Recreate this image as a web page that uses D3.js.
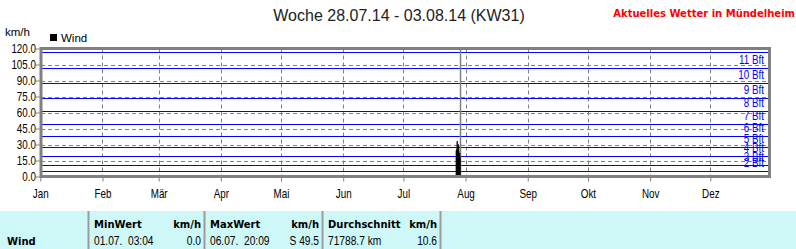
<!DOCTYPE html>
<html>
<head>
<meta charset="utf-8">
<script src="https://cdn.jsdelivr.net/npm/d3@7"></script>
<style>
  body { margin: 0; background: #fff; }
  svg { display: block; }
</style>
</head>
<body>
<div id="chart"></div>
<script>
// data
const monthNames = ["Jan", "Feb", "Mär", "Apr", "Mai", "Jun", "Jul", "Aug", "Sep", "Okt", "Nov", "Dez"];
const yTicks = [0, 15, 30, 45, 60, 75, 90, 105, 120];
const bftLimits = [5, 11, 19, 28, 38, 49, 61, 74, 88, 102, 117];
const bftLabels = ["2 Bft", "3 Bft", "4 Bft", "5 Bft", "6 Bft", "7 Bft", "8 Bft", "9 Bft", "10 Bft", "11 Bft"];
const windTimes = ["27.07.2014 06:00", "27.07.2014 09:00", "27.07.2014 12:00", "27.07.2014 15:00",
                   "27.07.2014 18:00", "27.07.2014 21:00", "28.07.2014 00:00", "28.07.2014 03:00",
                   "28.07.2014 06:00", "28.07.2014 09:00", "28.07.2014 12:00", "28.07.2014 15:00",
                   "28.07.2014 18:00", "28.07.2014 21:00", "29.07.2014 00:00", "29.07.2014 03:00",
                   "29.07.2014 06:00", "29.07.2014 09:00"];
const windValues = [24, 25, 24, 26, 33, 27, 25, 23, 28, 30, 29, 24, 22, 21, 22, 20, 18, 0];
const nowTime = "29.07.2014 00:00";
const tableHead = ["MinWert", "km/h", "MaxWert", "km/h", "Durchschnitt", "km/h"];
const tableRow = ["01.07.\u00a0 03:04", "0.0", "06.07.\u00a0 20:09", "S 49.5", "71788.7 km", "10.6"];

const width = 796, height = 249;
const plot = { left: 41, right: 769.5, top: 48.5, bottom: 176.5 };
const narrow = "translate(0,0) scale(0.82,1)";
const parseTime = d3.timeParse("%d.%m.%Y %H:%M");

const svg = d3.select("#chart").append("svg")
  .attr("width", width)
  .attr("height", height)
  .style("font-family", "'Liberation Sans', Arial, sans-serif");

let x = d3.scaleTime()
  .domain([new Date(2014, 0, 1), new Date(2015, 0, 1)])
  .range([40.3, 772.5]);

let y = d3.scaleLinear()
  .domain([0, 120])
  .range([plot.bottom, plot.top]);

// title
svg.append("text")
  .attr("x", 399).attr("y", 21)
  .attr("text-anchor", "middle")
  .style("font-size", "16px")
  .attr("fill", "#222")
  .text("Woche 28.07.14 - 03.08.14 (KW31)");

svg.append("text")
  .attr("x", 795).attr("y", 17)
  .attr("text-anchor", "end")
  .style("font-family", "'DejaVu Sans', sans-serif")
  .style("font-weight", "bold")
  .style("font-size", "10px")
  .attr("fill", "#ff0000")
  .text("Aktuelles Wetter in Mündelheim");

svg.append("text")
  .attr("x", 5).attr("y", 36)
  .style("font-size", "11.5px")
  .text("km/h");

// legend
svg.append("rect")
  .attr("x", 50).attr("y", 34)
  .attr("width", 7).attr("height", 7)
  .attr("fill", "#000");
svg.append("text")
  .attr("x", 61).attr("y", 42)
  .style("font-size", "11.5px")
  .text("Wind");

let grid = svg.append("g").attr("class", "grid");

grid.selectAll("line.hgrid")
  .data(yTicks.slice(1, -1))
  .enter().append("line")
  .attr("class", "hgrid")
  .attr("x1", plot.left).attr("x2", plot.right)
  .attr("y1", d => Math.round(y(d)) + 0.5)
  .attr("y2", d => Math.round(y(d)) + 0.5)
  .attr("stroke", "#808080")
  .attr("stroke-dasharray", "4,3");

let monthStarts = d3.timeMonth.range(new Date(2014, 0, 1), new Date(2015, 0, 1));

grid.selectAll("line.vgrid")
  .data(monthStarts.slice(1))
  .enter().append("line")
  .attr("class", "vgrid")
  .attr("x1", d => Math.round(x(d)) + 0.5)
  .attr("x2", d => Math.round(x(d)) + 0.5)
  .attr("y1", plot.top).attr("y2", plot.bottom)
  .attr("stroke", "#808080")
  .attr("stroke-dasharray", "4,3");

// beaufort lines
grid.selectAll("line.bft")
  .data(bftLimits)
  .enter().append("line")
  .attr("class", "bft")
  .attr("x1", plot.left).attr("x2", plot.right)
  .attr("y1", d => Math.round(y(d)) + 0.5)
  .attr("y2", d => Math.round(y(d)) + 0.5)
  .attr("stroke", "#0000ff")
  .attr("stroke-width", 1);

svg.append("g").selectAll("text")
  .data(bftLabels)
  .enter().append("text")
  .attr("transform", (d, i) => "translate(764," + (y(bftLimits[i]) - 4) + ") scale(0.82,1)")
  .attr("text-anchor", "end")
  .style("font-size", "12px")
  .attr("fill", "#0000ff")
  .text(d => d);

// current time marker
svg.append("line")
  .attr("x1", Math.round(x(parseTime(nowTime))) + 0.5)
  .attr("x2", Math.round(x(parseTime(nowTime))) + 0.5)
  .attr("y1", plot.top).attr("y2", plot.bottom)
  .attr("stroke", "#808080")
  .attr("stroke-width", 1.5);

// wind spike
let windData = windTimes.map((t, i) => ({ t: parseTime(t), v: windValues[i] }));
let area = d3.area()
  .x(d => x(d.t))
  .y0(y(0))
  .y1(d => y(d.v))
  .curve(d3.curveStepAfter);

svg.append("path")
  .datum(windData)
  .attr("d", area)
  .attr("fill", "#000")
  .attr("stroke", "#000")
  .attr("stroke-width", 0.8);

// axes
let xAxis = svg.append("g")
  .attr("transform", "translate(0," + plot.bottom + ")")
  .call(d3.axisBottom(x)
    .tickValues(monthStarts)
    .tickFormat((d, i) => monthNames[i])
    .tickSize(5)
    .tickPadding(8));
xAxis.select(".domain").remove();
xAxis.selectAll(".tick line").attr("stroke", "#808080");
xAxis.selectAll(".tick text")
  .attr("transform", narrow)
  .style("font-size", "12px")
  .style("font-family", "'Liberation Sans', Arial, sans-serif")
  .attr("fill", "#000");

let yAxis = svg.append("g")
  .attr("transform", "translate(" + plot.left + ",0)")
  .call(d3.axisLeft(y)
    .tickValues(yTicks)
    .tickFormat(d3.format(".1f"))
    .tickSize(5));
yAxis.select(".domain").remove();
yAxis.selectAll(".tick line").attr("stroke", "#808080");
yAxis.selectAll(".tick text")
  .attr("x", 0)
  .attr("transform", "translate(-5,0) scale(0.82,1)")
  .style("font-size", "12px")
  .style("font-family", "'Liberation Sans', Arial, sans-serif")
  .attr("fill", "#000");

// frame
svg.append("rect")
  .attr("x", plot.left).attr("y", plot.top)
  .attr("width", plot.right - plot.left)
  .attr("height", plot.bottom - plot.top)
  .attr("fill", "none")
  .attr("stroke", "#808080")
  .attr("stroke-width", 3);

// statistics table
let table = svg.append("g").attr("class", "table");
table.append("rect")
  .attr("x", 0).attr("y", 211)
  .attr("width", width).attr("height", height - 211)
  .attr("fill", "#cdf8f7");

let seps = [88.5, 204.5, 322.5, 440.5];
table.selectAll("line.sep")
  .data(seps)
  .enter().append("line")
  .attr("class", "sep")
  .attr("x1", d => d).attr("x2", d => d)
  .attr("y1", 211).attr("y2", height)
  .attr("stroke", "#9a9a9a")
  .attr("stroke-width", 2);

table.append("text")
  .attr("x", 7).attr("y", 245)
  .style("font-family", "'DejaVu Sans', sans-serif")
  .style("font-weight", "bold")
  .style("font-size", "10px")
  .text("Wind");

let colLeft = [94, 210, 328];
let colRight = [201, 319, 437];

table.selectAll("text.head")
  .data(tableHead)
  .enter().append("text")
  .attr("class", "head")
  .attr("x", (d, i) => i % 2 == 0 ? colLeft[i / 2] : colRight[(i - 1) / 2])
  .attr("y", 228)
  .attr("text-anchor", (d, i) => i % 2 == 0 ? "start" : "end")
  .style("font-family", "'DejaVu Sans', sans-serif")
  .style("font-weight", "bold")
  .style("font-size", "10px")
  .text(d => d);

table.selectAll("text.val")
  .data(tableRow)
  .enter().append("text")
  .attr("class", "val")
  .attr("transform", (d, i) => {
    let xp = i % 2 == 0 ? colLeft[i / 2] : colRight[(i - 1) / 2];
    return "translate(" + xp + ",245) scale(0.85,1)";
  })
  .attr("text-anchor", (d, i) => i % 2 == 0 ? "start" : "end")
  .style("font-size", "12px")
  .text(d => d);
</script>
</body>
</html>
